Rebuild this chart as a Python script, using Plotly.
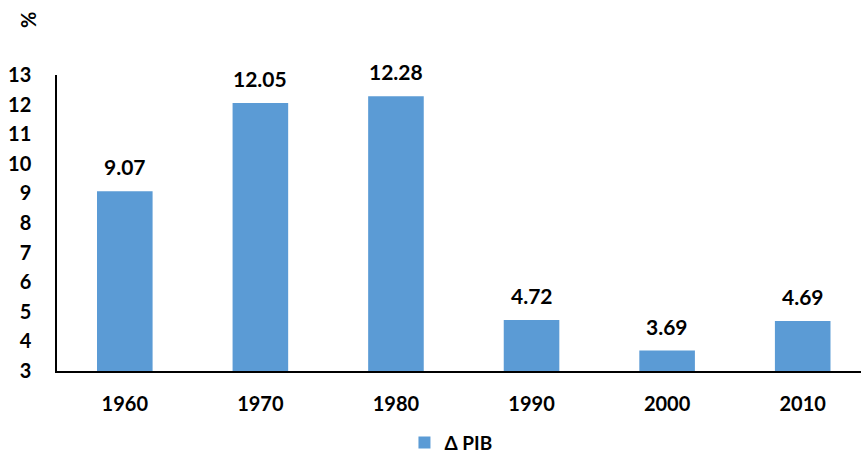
import plotly.graph_objects as go

years = ["1960", "1970", "1980", "1990", "2000", "2010"]
pib = [9.07, 12.05, 12.28, 4.72, 3.69, 4.69]
y_ticks = list(range(3, 14))

FONT = "Lato"

fig = go.Figure()
fig.add_trace(go.Bar(
    x=years, y=pib, name="Δ PIB",
    marker=dict(color="#5B9BD5", line=dict(width=0)),
    width=0.41,
))

annots = [dict(x=i, y=v, xref="x", yref="y", text=f"{v:.2f}", showarrow=False,
               yanchor="bottom", yshift=10,
               font=dict(family=FONT, size=21, color="black", weight="bold"))
          for i, v in enumerate(pib)]
annots.append(dict(text="%", xref="paper", yref="paper", x=-0.036, y=1.186,
                   showarrow=False, textangle=-90, xanchor="center", yanchor="middle",
                   font=dict(family=FONT, size=20, color="black", weight="bold")))

fig.update_layout(
    width=861, height=455,
    margin=dict(l=57, r=0, t=75, b=84, autoexpand=False),
    paper_bgcolor="white", plot_bgcolor="white",
    font=dict(family=FONT, size=19, color="black", weight="bold"),
    showlegend=True,
    legend=dict(orientation="h", x=0.49, xanchor="center", y=-0.178, yanchor="top",
                font=dict(family=FONT, size=19, color="black", weight="bold")),
    xaxis=dict(type="category", range=[-0.5, 5.43], showline=True, linecolor="black",
               linewidth=1.5, ticks="", showgrid=False, automargin=False,
               tickfont=dict(family=FONT, size=20, color="black", weight="bold"),
               ticklabelstandoff=14),
    yaxis=dict(range=[3, 13], tickvals=y_ticks, showline=True, linecolor="black",
               linewidth=1.5, ticks="", showgrid=False, zeroline=False, automargin=False,
               tickfont=dict(family=FONT, size=20, color="black", weight="bold"),
               ticklabelstandoff=20),
    annotations=annots,
)

fig.write_html("out.html", config={"displayModeBar": False},
               post_script="document.body.style.margin='0';")
